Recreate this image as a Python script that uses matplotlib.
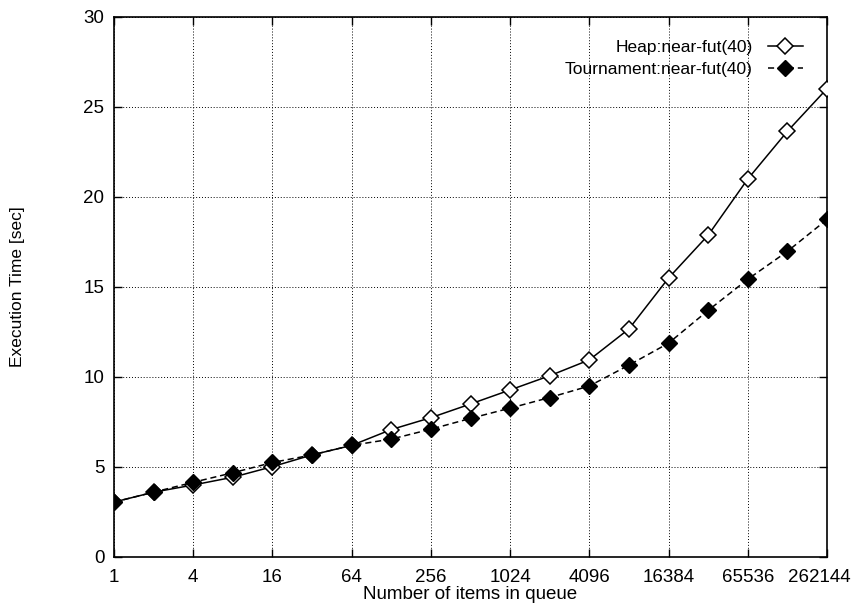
import matplotlib
matplotlib.use("Agg")
import matplotlib.pyplot as plt
from matplotlib.ticker import FixedLocator, FixedFormatter
from matplotlib.transforms import ScaledTranslation

plt.rcParams["font.family"] = ["Liberation Sans", "DejaVu Sans"]

# queue sizes: powers of two from 2^0 to 2^18
queue_sizes = [2 ** k for k in range(19)]
heap_times = [3.05, 3.6, 4.0, 4.43, 5.02, 5.67, 6.2, 7.08, 7.74, 8.5, 9.28,
              10.07, 10.95, 12.67, 15.5, 17.88, 21.0, 23.65, 26.02]
tournament_times = [3.05, 3.6, 4.15, 4.68, 5.25, 5.67, 6.2, 6.55, 7.1, 7.7, 8.27,
                    8.86, 9.5, 10.66, 11.88, 13.7, 15.43, 16.98, 18.75]
x_ticks = [1, 4, 16, 64, 256, 1024, 4096, 16384, 65536, 262144]
x_tick_labels = [str(t) for t in x_ticks]
y_ticks = [0, 5, 10, 15, 20, 25, 30]

fig = plt.figure(figsize=(8.54, 6.07), dpi=100)
ax = fig.add_axes([0.1335, 0.0824, 0.8349, 0.8896])

ax.plot(queue_sizes, heap_times, color="black", linestyle="-", linewidth=1.1,
        marker="D", markersize=8, markerfacecolor="white", markeredgecolor="black",
        markeredgewidth=1.1, label="Heap:near-fut(40)", zorder=3)
ax.plot(queue_sizes, tournament_times, color="black", linestyle=(0, (4, 2.5)), linewidth=1.1,
        marker="D", markersize=8, markerfacecolor="black", markeredgecolor="black",
        label="Tournament:near-fut(40)", zorder=3)

ax.set_xscale("log", base=2)
ax.set_xlim(1, 262144)
ax.set_ylim(0, 30)
ax.xaxis.set_major_locator(FixedLocator(x_ticks))
ax.xaxis.set_major_formatter(FixedFormatter(x_tick_labels))
ax.xaxis.set_minor_locator(FixedLocator([]))
ax.set_yticks(y_ticks)

ax.grid(True, color="black", linestyle=(0, (1, 2)), linewidth=0.7)
ax.tick_params(direction="in", length=6, width=1, top=True, right=True,
               labelsize=13.5)
ax.tick_params(axis="x", pad=9)
ax.tick_params(axis="y", pad=7)
for spine in ax.spines.values():
    spine.set_linewidth(1.2)

# keep the last x label inside the figure
fig.canvas.draw()
last = ax.get_xticklabels()[-1]
last.set_transform(last.get_transform() + ScaledTranslation(-8 / 100, 0, fig.dpi_scale_trans))

ax.set_xlabel("Number of items in queue", fontsize=13.5, labelpad=0)
ax.set_ylabel("Execution Time [sec]", fontsize=12.5, labelpad=42)

leg = ax.legend(loc="upper right", bbox_to_anchor=(0.966, 0.957), frameon=False,
                markerfirst=False, fontsize=12.5, handlelength=2.0,
                handletextpad=0.9, labelspacing=0.35, borderaxespad=0, borderpad=0)

fig.savefig("out.png", dpi=100)
